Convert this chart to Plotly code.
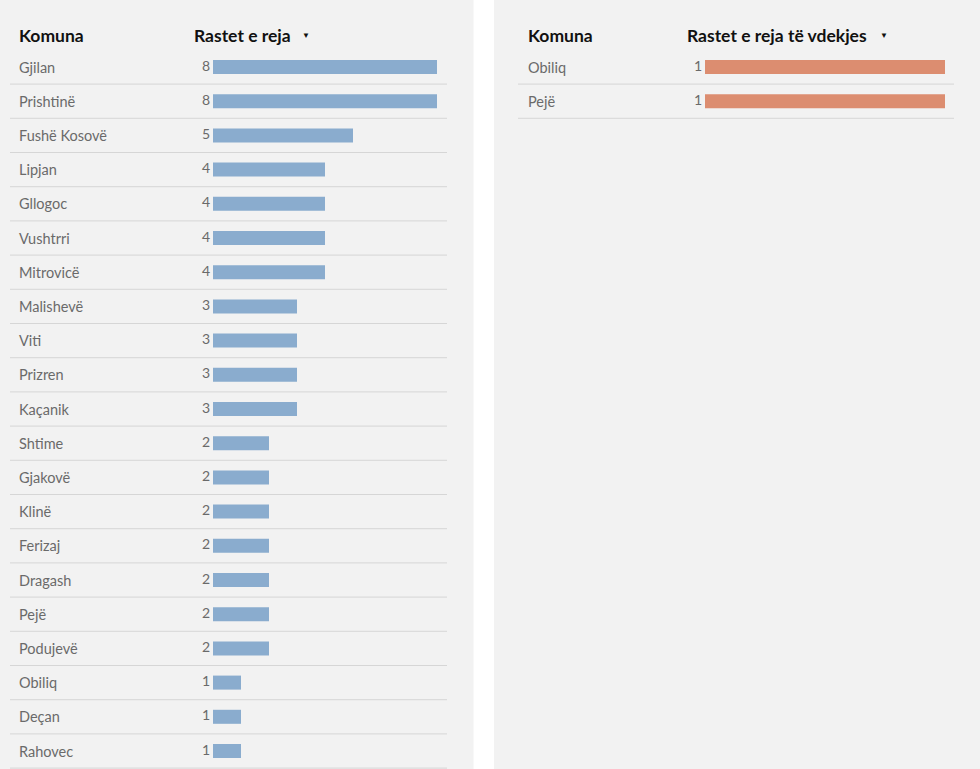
import plotly.graph_objects as go

# ---- data ----
komuna_cases = ["Gjilan", "Prishtinë", "Fushë Kosovë", "Lipjan", "Gllogoc", "Vushtrri",
                "Mitrovicë", "Malishevë", "Viti", "Prizren", "Kaçanik", "Shtime",
                "Gjakovë", "Klinë", "Ferizaj", "Dragash", "Pejë", "Podujevë",
                "Obiliq", "Deçan", "Rahovec"]
new_cases = [8, 8, 5, 4, 4, 4, 4, 3, 3, 3, 3, 2, 2, 2, 2, 2, 2, 2, 1, 1, 1]

komuna_deaths = ["Obiliq", "Pejë"]
new_deaths = [1, 1]

header_komuna = "Komuna"
header_cases = "Rastet e reja"
header_deaths = "Rastet e reja të vdekjes"

# ---- style / geometry ----
W, H = 980, 769
FONT = "Lato"
BG = "#f2f2f2"
BLUE = "#8aacce"
ORANGE = "#dc8d70"
GRID = "#d6d6d6"
TXT = "#6a6a6a"
ROW_PX = 34.2
FIRST_ROW_PX = 67.0
LABEL_GAP_PX = 3

y_top = -FIRST_ROW_PX / ROW_PX
y_bot = y_top + H / ROW_PX

def px(v):
    return v / W

# left axis: domain 10..447 px, 0 at 213px, max at 437px
l_ppu = (437 - 213) / max(new_cases)
l_range = [-(213 - 10) / l_ppu, max(new_cases) + (447 - 437) / l_ppu]
r_ppu = (945 - 705) / max(new_deaths)
r_range = [-(705 - 518) / r_ppu, max(new_deaths) + (954 - 945) / r_ppu]

fig = go.Figure()

idx_cases = list(range(len(komuna_cases)))
idx_deaths = list(range(len(komuna_deaths)))

fig.add_trace(go.Bar(x=new_cases, y=idx_cases, orientation="h", marker_color=BLUE,
                     marker_line_width=0, width=0.41, xaxis="x", yaxis="y", hoverinfo="skip"))
fig.add_trace(go.Scatter(x=[-LABEL_GAP_PX / l_ppu] * len(new_cases), y=idx_cases, mode="text",
                         text=[str(v) for v in new_cases], textposition="middle left",
                         textfont=dict(family=FONT, size=14, color=TXT),
                         xaxis="x", yaxis="y", hoverinfo="skip"))

fig.add_trace(go.Bar(x=new_deaths, y=idx_deaths, orientation="h", marker_color=ORANGE,
                     marker_line_width=0, width=0.41, xaxis="x2", yaxis="y2", hoverinfo="skip"))
fig.add_trace(go.Scatter(x=[-LABEL_GAP_PX / r_ppu] * len(new_deaths), y=idx_deaths, mode="text",
                         text=[str(v) for v in new_deaths], textposition="middle left",
                         textfont=dict(family=FONT, size=14, color=TXT),
                         xaxis="x2", yaxis="y2", hoverinfo="skip"))

axis_common = dict(showgrid=False, zeroline=False, showticklabels=False, showline=False,
                   fixedrange=True)
fig.update_layout(
    xaxis=dict(domain=[px(10), px(447)], range=l_range, anchor="y", **axis_common),
    yaxis=dict(domain=[0, 1], range=[y_bot, y_top], anchor="x", **axis_common),
    xaxis2=dict(domain=[px(518), px(954)], range=r_range, anchor="y2", **axis_common),
    yaxis2=dict(domain=[0, 1], range=[y_bot, y_top], anchor="x2", **axis_common),
)

shapes = [
    dict(type="rect", xref="paper", yref="paper", x0=0, x1=px(473.5), y0=0, y1=1,
         fillcolor=BG, line_width=0, layer="below"),
    dict(type="rect", xref="paper", yref="paper", x0=px(494), x1=1, y0=0, y1=1,
         fillcolor=BG, line_width=0, layer="below"),
]
for i in idx_cases:
    shapes.append(dict(type="line", xref="x domain", yref="y", x0=0, x1=1,
                       y0=i + 0.5, y1=i + 0.5, line=dict(color=GRID, width=1)))
for i in idx_deaths:
    shapes.append(dict(type="line", xref="x2 domain", yref="y2", x0=0, x1=1,
                       y0=i + 0.5, y1=i + 0.5, line=dict(color=GRID, width=1)))

annotations = []
for i, name in enumerate(komuna_cases):
    annotations.append(dict(text=name, xref="paper", yref="y", x=px(17), y=i,
                            xanchor="left", yanchor="middle", showarrow=False,
                            font=dict(family=FONT, size=14.5, color=TXT)))
for i, name in enumerate(komuna_deaths):
    annotations.append(dict(text=name, xref="paper", yref="y2", x=px(526), y=i,
                            xanchor="left", yanchor="middle", showarrow=False,
                            font=dict(family=FONT, size=14.5, color=TXT)))

hdr_font = dict(family=FONT, size=17.5, color="#111111")
hdr_y = 1 - 35 / H
for txt, x in [(header_komuna, 17), (header_cases, 192), (header_komuna, 526), (header_deaths, 685)]:
    annotations.append(dict(text="<b>" + txt + "</b>", xref="paper", yref="paper", x=px(x), y=hdr_y,
                            xanchor="left", yanchor="middle", showarrow=False, font=hdr_font))
for x in [306, 884]:
    annotations.append(dict(text="▼", xref="paper", yref="paper", x=px(x), y=1 - 35 / H,
                            xanchor="center", yanchor="middle", showarrow=False,
                            font=dict(family=FONT, size=8, color="#111111")))

fig.update_layout(
    width=W, height=H, margin=dict(l=0, r=0, t=0, b=0),
    paper_bgcolor="white", plot_bgcolor="rgba(0,0,0,0)",
    showlegend=False, shapes=shapes, annotations=annotations,
    font=dict(family=FONT),
)

fig.write_html("out.html", config={"displayModeBar": False, "staticPlot": True},
               post_script="document.body.style.margin='0px';")
